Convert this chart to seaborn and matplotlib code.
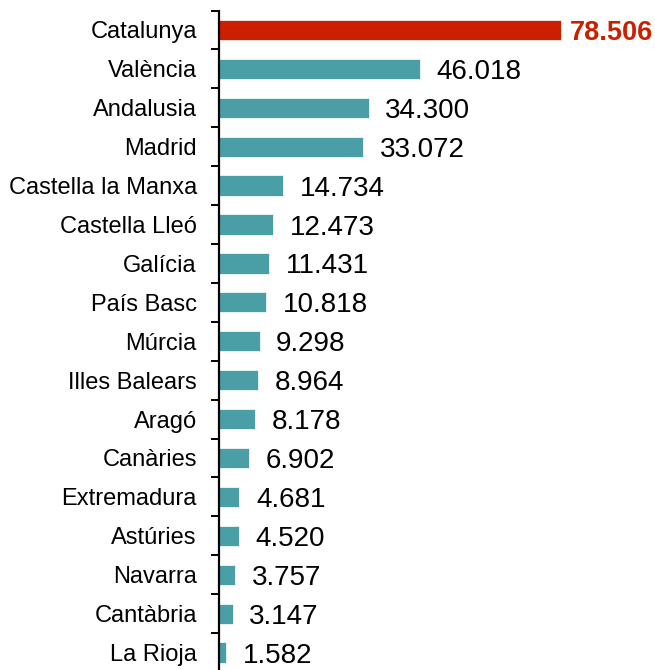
import pandas as pd
import matplotlib.pyplot as plt
import seaborn as sns

regions = ["Catalunya", "València", "Andalusia", "Madrid", "Castella la Manxa",
           "Castella Lleó", "Galícia", "País Basc", "Múrcia", "Illes Balears",
           "Aragó", "Canàries", "Extremadura", "Astúries", "Navarra",
           "Cantàbria", "La Rioja"]
values = [78.506, 46.018, 34.300, 33.072, 14.734, 12.473, 11.431, 10.818,
          9.298, 8.964, 8.178, 6.902, 4.681, 4.520, 3.757, 3.147, 1.582]
labels = ["78.506", "46.018", "34.300", "33.072", "14.734", "12.473", "11.431",
          "10.818", "9.298", "8.964", "8.178", "6.902", "4.681", "4.520",
          "3.757", "3.147", "1.582"]
highlight = "Catalunya"

RED = "#CC1F00"
TEAL = "#4A9FA6"

sns.set_style("white")
plt.rcParams['font.family'] = ['Liberation Sans', 'DejaVu Sans']

df = pd.DataFrame({"region": regions, "value": values})
df["grp"] = ["hi" if r == highlight else "lo" for r in regions]

fig = plt.figure(figsize=(6.55, 6.70), dpi=100)
ax = fig.add_axes([219 / 655, -2 / 670, 436 / 655, 661.5 / 670])

sns.barplot(data=df, x="value", y="region", hue="grp", dodge=False,
            palette={"hi": RED, "lo": TEAL}, width=0.52, legend=False,
            ax=ax, edgecolor="white", linewidth=0.5, saturation=1)

ax.set_xlim(0, 100)
ax.set_ylim(len(regions) - 0.5, -0.5)
ax.set_xlabel("")
ax.set_ylabel("")
ax.set_xticks([])

for s in ["top", "right", "bottom"]:
    ax.spines[s].set_visible(False)
ax.spines["left"].set_color("black")
ax.spines["left"].set_linewidth(1.6)

# category labels with no tick, tick marks sit between the bars
ax.tick_params(axis="y", which="major", left=False, length=0, pad=16,
               labelsize=17, labelcolor="black")
for t in ax.get_yticklabels():
    t.set_va("center_baseline")
ax.set_yticks([i + 0.5 for i in range(-1, len(regions))], minor=True)
ax.tick_params(axis="y", which="minor", left=True, length=6, width=1.4,
               color="black", direction="out")

for i, (v, lab) in enumerate(zip(values, labels)):
    if regions[i] == highlight:
        ax.annotate(lab, (v, i), xytext=(6, 0), textcoords="offset points",
                    va="center_baseline", ha="left", fontsize=19.5,
                    fontweight="bold", color=RED)
    else:
        ax.annotate(lab, (v, i), xytext=(12, 0), textcoords="offset points",
                    va="center_baseline", ha="left", fontsize=20,
                    color="black")

fig.savefig("out.png", dpi=100)
